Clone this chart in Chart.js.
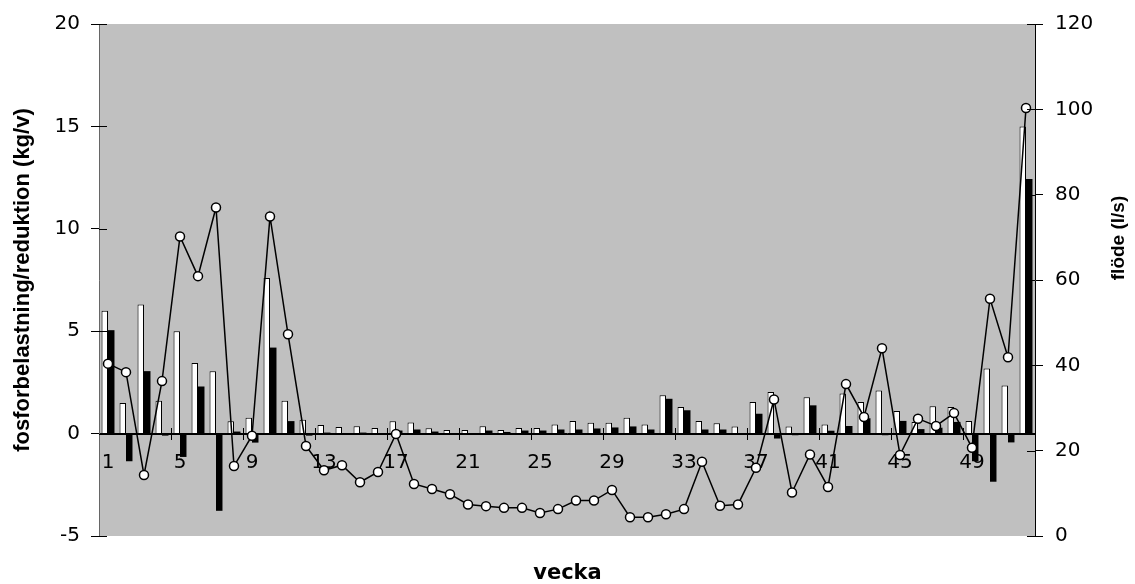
<!DOCTYPE html>
<html>
<head>
<meta charset="utf-8">
<script src="https://cdn.jsdelivr.net/npm/chart.js@4.4.0/dist/chart.umd.min.js"></script>
<style>
  html, body { margin: 0; padding: 0; background: #fff; }
</style>
</head>
<body>
<canvas id="fosforChart" width="1135" height="584"></canvas>
<script>
// vecka 1-52
const weeks = ["1", "2", "3", "4", "5", "6", "7", "8", "9", "10", "11", "12", "13",
  "14", "15", "16", "17", "18", "19", "20", "21", "22", "23", "24", "25", "26",
  "27", "28", "29", "30", "31", "32", "33", "34", "35", "36", "37", "38", "39",
  "40", "41", "42", "43", "44", "45", "46", "47", "48", "49", "50", "51", "52"];

// fosforbelastning (kg/v) - vita staplar
const belastning = [6.0, 1.5, 6.3, 1.6, 5.0, 3.45, 3.05, 0.6, 0.78, 7.6, 1.6, 0.68, 0.42,
  0.32, 0.36, 0.27, 0.6, 0.54, 0.26, 0.18, 0.18, 0.36, 0.18, 0.27, 0.27, 0.45,
  0.61, 0.53, 0.53, 0.78, 0.45, 1.87, 1.3, 0.61, 0.51, 0.35, 1.54, 2.03, 0.35,
  1.78, 0.44, 1.96, 1.54, 2.11, 1.1, 0.57, 1.33, 1.3, 0.61, 3.18, 2.35, 15.0];

// reduktion (kg/v) - svarta staplar
const reduktion = [5.05, -1.35, 3.05, -0.1, -1.14, 2.3, -3.77, 0.1, -0.44, 4.2, 0.61, -0.1, 0.05,
  -0.05, 0.05, 0.03, 0.15, 0.2, 0.1, 0.03, 0.03, 0.15, 0.08, 0.15, 0.15, 0.2,
  0.2, 0.25, 0.3, 0.35, 0.2, 1.7, 1.14, 0.2, 0.2, 0.02, 0.97, -0.24, -0.08,
  1.38, 0.14, 0.37, 0.75, -0.08, 0.62, 0.22, 0.29, 0.57, -1.35, -2.35, -0.43, 12.43];

// flöde (l/s) - linje, höger axel
const flode = [40.4, 38.4, 14.3, 36.3, 70.2, 60.9, 77.0, 16.4, 23.5, 74.9, 47.3, 21.1, 15.4,
  16.6, 12.6, 15.0, 23.9, 12.2, 11.0, 9.8, 7.4, 7.0, 6.6, 6.6, 5.4, 6.3,
  8.3, 8.3, 10.8, 4.4, 4.4, 5.1, 6.3, 17.4, 7.1, 7.4, 16.0, 32.0, 10.2,
  19.1, 11.5, 35.6, 27.9, 44.0, 19.0, 27.5, 25.8, 28.8, 20.7, 55.6, 41.9, 100.3];

const leftTicks = [-5, 0, 5, 10, 15, 20];
const rightTicks = [0, 20, 40, 60, 80, 100, 120];

const tickFont = { family: "DejaVu Sans", size: 20 };

// grå bakgrund i diagramytan, nollinje under staplarna
const plotBg = {
  id: "plotBg",
  beforeDraw(chart) {
    const { ctx, chartArea: a } = chart;
    ctx.save();
    ctx.fillStyle = "#c0c0c0";
    ctx.fillRect(a.left, a.top, a.right - a.left, a.bottom - a.top);
    ctx.restore();
  },
  beforeDatasetsDraw(chart) {
    const { ctx, chartArea: a, scales } = chart;
    const zero = Math.round(scales.y.getPixelForValue(0)) + 0.5;
    ctx.save();
    ctx.strokeStyle = "#000";
    ctx.lineWidth = 1;
    ctx.beginPath();
    ctx.moveTo(a.left, zero);
    ctx.lineTo(a.right, zero);
    ctx.stroke();
    ctx.restore();
  },
};

// korsande skalstreck (insidan av axlarna) + högeraxelns titel
const extras = {
  id: "extras",
  afterDraw(chart) {
    const { ctx, chartArea: a, scales } = chart;
    ctx.save();
    ctx.strokeStyle = "#000";
    ctx.lineWidth = 1;
    ctx.beginPath();
    scales.y.ticks.forEach((t) => {
      const py = Math.round(scales.y.getPixelForValue(t.value)) + 0.5;
      ctx.moveTo(a.left, py);
      ctx.lineTo(a.left + 8, py);
    });
    scales.y1.ticks.forEach((t) => {
      const py = Math.round(scales.y1.getPixelForValue(t.value)) + 0.5;
      ctx.moveTo(a.right - 8, py);
      ctx.lineTo(a.right, py);
    });
    const zero = Math.round(scales.y.getPixelForValue(0));
    const step = (a.right - a.left) / weeks.length;
    for (let i = 4; i < weeks.length; i += 4) {
      const px = Math.round(a.left + i * step) + 0.5;
      ctx.moveTo(px, zero - 6);
      ctx.lineTo(px, zero);
    }
    ctx.stroke();

    ctx.translate(1119, 238);
    ctx.rotate(-Math.PI / 2);
    ctx.font = "bold 19px 'Liberation Sans'";
    ctx.fillStyle = "#000";
    ctx.textAlign = "center";
    ctx.textBaseline = "middle";
    ctx.fillText("flöde (l/s)", 0, 0);
    ctx.restore();
  },
};

new Chart(document.getElementById("fosforChart"), {
  type: "bar",
  data: {
    labels: weeks,
    datasets: [
      {
        type: "line",
        label: "flöde",
        data: flode,
        yAxisID: "y1",
        borderColor: "#000",
        borderWidth: 1.5,
        pointBackgroundColor: "#fff",
        pointBorderColor: "#000",
        pointBorderWidth: 1.5,
        pointRadius: 4.5,
        tension: 0,
        order: 0,
      },
      {
        label: "belastning",
        data: belastning,
        yAxisID: "y",
        backgroundColor: "#fff",
        borderColor: "#000",
        borderWidth: 1,
        categoryPercentage: 0.72,
        barPercentage: 1,
        order: 1,
      },
      {
        label: "reduktion",
        data: reduktion,
        yAxisID: "y",
        backgroundColor: "#000",
        borderWidth: 0,
        categoryPercentage: 0.72,
        barPercentage: 1,
        order: 1,
      },
    ],
  },
  options: {
    responsive: false,
    animation: false,
    devicePixelRatio: 1,
    layout: { padding: { top: 23, right: 0, bottom: 0, left: 0 } },
    plugins: {
      legend: { display: false },
      tooltip: { enabled: false },
      title: {
        display: true,
        position: "bottom",
        text: "vecka",
        color: "#000",
        font: { family: "DejaVu Sans", size: 21, weight: "bold", lineHeight: 1 },
        padding: { top: 27, bottom: 0 },
      },
    },
    scales: {
      x: {
        type: "category",
        position: { y: 0 },
        offset: true,
        grid: {
          offset: true,
          drawOnChartArea: false,
          drawTicks: true,
          tickLength: 6,
          color: (c) => (c.index % 4 === 0 ? "#000" : "rgba(0,0,0,0)"),
        },
        border: { display: true, color: "#000", width: 1 },
        ticks: {
          autoSkip: false,
          maxRotation: 0,
          padding: 11,
          color: "#000",
          font: tickFont,
          callback: function (val, index) {
            return index % 4 === 0 ? this.getLabelForValue(val) : "";
          },
        },
      },
      y: {
        position: "left",
        min: leftTicks[0],
        max: leftTicks[leftTicks.length - 1],
        afterFit: (s) => { s.width = 99; },
        afterBuildTicks: (s) => { s.ticks = leftTicks.map((v) => ({ value: v })); },
        grid: { drawOnChartArea: false, tickLength: 8, color: "#000" },
        border: { display: true, color: "#666", width: 1 },
        ticks: { padding: 11, color: "#000", font: tickFont },
        title: {
          display: true,
          text: "fosforbelastning/reduktion (kg/v)",
          color: "#000",
          font: { family: "Liberation Sans", size: 22, weight: "bold" },
          padding: { top: 10, bottom: 0 },
        },
      },
      y1: {
        position: "right",
        min: rightTicks[0],
        max: rightTicks[rightTicks.length - 1],
        afterFit: (s) => { s.width = 100; },
        afterBuildTicks: (s) => { s.ticks = rightTicks.map((v) => ({ value: v })); },
        grid: { drawOnChartArea: false, tickLength: 8, color: "#000" },
        border: { display: true, color: "#000", width: 1 },
        ticks: { padding: 12, color: "#000", font: tickFont },
      },
    },
  },
  plugins: [plotBg, extras],
});
</script>
</body>
</html>
